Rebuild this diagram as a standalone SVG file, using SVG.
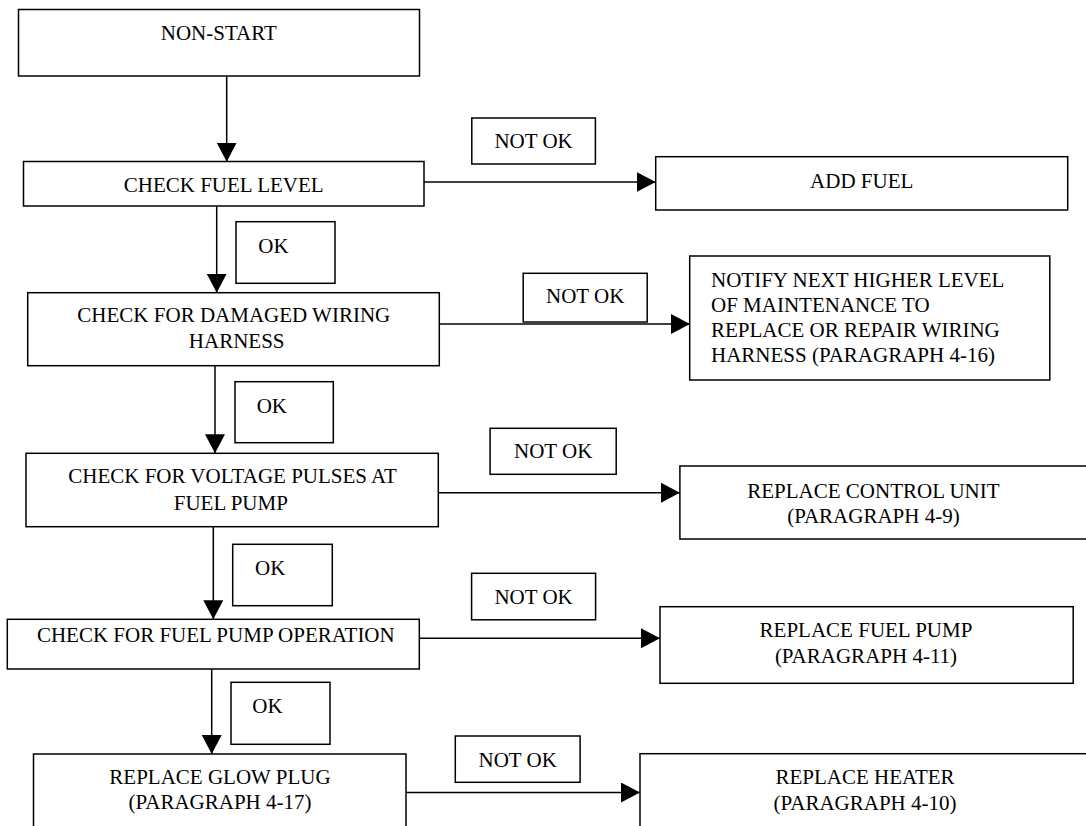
<svg xmlns="http://www.w3.org/2000/svg" width="1086" height="826" viewBox="0 0 1086 826">
<style>
.box{fill:#fff;stroke:#000;stroke-width:1.5}
.t{font-family:"Liberation Serif","Times New Roman",serif;font-size:21px;fill:#000}
.c{text-anchor:middle}
.edge{stroke:#000;stroke-width:1.5;fill:none;marker-end:url(#arr)}
</style>
<defs>
<marker id="arr" markerUnits="userSpaceOnUse" markerWidth="20" markerHeight="20" refX="19" refY="10" orient="auto">
<path d="M0,0 L19,10 L0,20 Z" fill="#000"/>
</marker>
</defs>
<rect width="1086" height="826" fill="#fff"/>
<g id="connectors">
<line class="edge" x1="226.7" y1="76" x2="226.7" y2="161.7"/>
<line class="edge" x1="216.7" y1="206" x2="216.7" y2="292.7"/>
<line class="edge" x1="215" y1="365.7" x2="215" y2="453.3"/>
<line class="edge" x1="213.3" y1="526.7" x2="213.3" y2="619.3"/>
<line class="edge" x1="211.7" y1="669" x2="211.7" y2="754"/>
<line class="edge" x1="424" y1="182" x2="655.7" y2="182"/>
<line class="edge" x1="439.3" y1="324" x2="690" y2="324"/>
<line class="edge" x1="438.3" y1="492.7" x2="679.9" y2="492.7"/>
<line class="edge" x1="419.3" y1="638.3" x2="660" y2="638.3"/>
<line class="edge" x1="406" y1="792.5" x2="640" y2="792.5"/>
</g>
<g id="n-nonstart"><rect class="box" x="18.5" y="9.5" width="401" height="66.5"/><text class="t c" x="218.8" y="40">NON-START</text></g>
<g id="n-fuellevel"><rect class="box" x="23.5" y="161.5" width="400.5" height="44.5"/><text class="t c" x="223.7" y="192">CHECK FUEL LEVEL</text></g>
<g id="n-addfuel"><rect class="box" x="655.7" y="156.7" width="412" height="53.3"/><text class="t c" x="861.7" y="188">ADD FUEL</text></g>
<g id="n-wiring"><rect class="box" x="27.7" y="292.7" width="411.6" height="73"/><text class="t c" x="233.8" y="321.7">CHECK FOR DAMAGED WIRING</text><text class="t c" x="236.7" y="347.7">HARNESS</text></g>
<g id="n-notify"><rect class="box" x="689.7" y="256" width="360.1" height="124"/><text class="t" x="711" y="286.5">NOTIFY NEXT HIGHER LEVEL</text><text class="t" x="711" y="311.5">OF MAINTENANCE TO</text><text class="t" x="711" y="336.5">REPLACE OR REPAIR WIRING</text><text class="t" x="711" y="361.5">HARNESS (PARAGRAPH 4-16)</text></g>
<g id="n-voltage"><rect class="box" x="26" y="453.3" width="412.3" height="73.4"/><text class="t c" x="232.5" y="483.3">CHECK FOR VOLTAGE PULSES AT</text><text class="t c" x="230.8" y="510">FUEL PUMP</text></g>
<g id="n-controlunit"><rect class="box" x="679.9" y="466" width="420" height="73"/><text class="t c" x="873.4" y="498">REPLACE CONTROL UNIT</text><text class="t c" x="873.4" y="523">(PARAGRAPH 4-9)</text></g>
<g id="n-pumpop"><rect class="box" x="7.3" y="619.3" width="412" height="49.7"/><text class="t c" x="215.8" y="641.7">CHECK FOR FUEL PUMP OPERATION</text></g>
<g id="n-replacepump"><rect class="box" x="660" y="606.7" width="413.2" height="76.6"/><text class="t c" x="866" y="636.7">REPLACE FUEL PUMP</text><text class="t c" x="866" y="662.7">(PARAGRAPH 4-11)</text></g>
<g id="n-glowplug"><rect class="box" x="33.5" y="754" width="372.5" height="90"/><text class="t c" x="220" y="784.3">REPLACE GLOW PLUG</text><text class="t c" x="220" y="809.3">(PARAGRAPH 4-17)</text></g>
<g id="n-heater"><rect class="box" x="640" y="753.7" width="460" height="90"/><text class="t c" x="865" y="784">REPLACE HEATER</text><text class="t c" x="865" y="810">(PARAGRAPH 4-10)</text></g>
<g id="l-ok1"><rect class="box" x="236" y="221.7" width="99" height="61.6"/><text class="t" x="258.3" y="253.3">OK</text></g>
<g id="l-ok2"><rect class="box" x="235" y="381.7" width="98.3" height="61"/><text class="t" x="256.7" y="412.7">OK</text></g>
<g id="l-ok3"><rect class="box" x="232.7" y="544.3" width="99.6" height="61.4"/><text class="t" x="255" y="575">OK</text></g>
<g id="l-ok4"><rect class="box" x="231" y="682.3" width="99" height="62"/><text class="t" x="252.3" y="713.3">OK</text></g>
<g id="l-notok1"><rect class="box" x="471.8" y="118" width="123.6" height="46"/><text class="t c" x="533.6" y="148.3">NOT OK</text></g>
<g id="l-notok2"><rect class="box" x="523.2" y="273.3" width="124" height="48.7"/><text class="t c" x="585.2" y="303.3">NOT OK</text></g>
<g id="l-notok3"><rect class="box" x="490.1" y="428.3" width="126.1" height="46"/><text class="t c" x="553.2" y="458.3">NOT OK</text></g>
<g id="l-notok4"><rect class="box" x="471.6" y="573.3" width="124" height="46.5"/><text class="t c" x="533.6" y="604">NOT OK</text></g>
<g id="l-notok5"><rect class="box" x="455.3" y="736" width="124.8" height="46.3"/><text class="t c" x="517.7" y="766.7">NOT OK</text></g>
</svg>
